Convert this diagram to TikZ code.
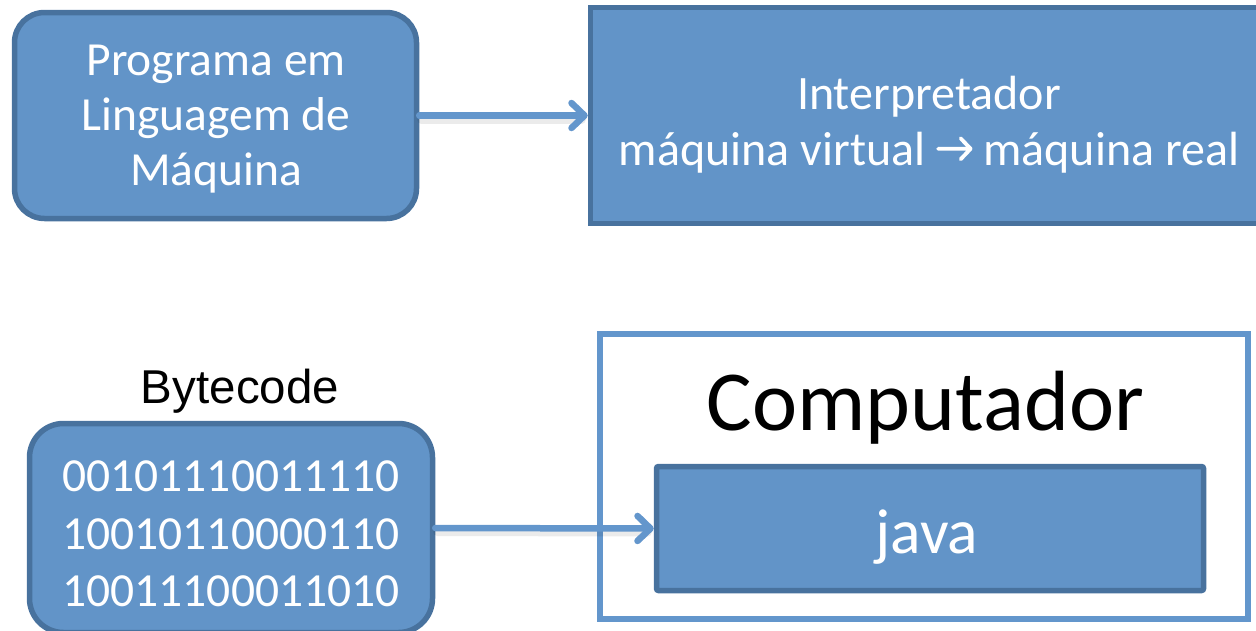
\documentclass[tikz,border=0pt]{standalone}
\usepackage{fontspec}
\setmainfont{Carlito}
\newfontfamily\arialfont{Liberation Sans}
\usetikzlibrary{arrows.meta}

\definecolor{boxfill}{RGB}{98,148,200}
\definecolor{boxline}{RGB}{72,114,158}
\definecolor{linkblue}{RGB}{99,150,204}

\tikzset{
  darkbox/.style={draw=boxline, fill=boxfill, line width=5.5pt, text=white, align=center, inner sep=0pt},
  framebox/.style={draw=linkblue, line width=6pt, inner sep=0pt},
  link/.style={draw=linkblue, line width=6.5pt, line cap=round,
    -{Straight Barb[length=13pt, width=25pt, line cap=round, line join=round]}},
  linkshadow/.style={draw=black, line width=8pt, opacity=0.08, line cap=round},
}

% chevron arrow used inside the interpreter label
\newcommand{\vmarrow}{\tikz[x=1pt,y=1pt,baseline=0pt]{\draw[white, line width=3.8pt, line cap=round, line join=round]
  (2.5,17) -- (35,17) (25,6.5) -- (35,17) -- (25,27.5);}}

\begin{document}
\begin{tikzpicture}[x=1pt, y=-1pt]
  \useasboundingbox (0,0) rectangle (1256,630);
  \clip (0,0) rectangle (1256,630);

  % upper row
  \node[darkbox, rounded corners=30pt, minimum width=402pt, minimum height=206pt] (prog) at (215.5,115.5) {};
  \node[font=\fontsize{47.5}{55}\selectfont, text=white, align=center] (progtext) at (216,119)
    {Programa em\\Linguagem de\\Máquina};

  \node[darkbox, minimum width=677pt, minimum height=216pt] (interp) at (929,115.5) {};
  \node[font=\fontsize{48}{56}\selectfont, text=white, align=center] (interptext) at (929,125)
    {Interpretador\\máquina virtual \vmarrow{} máquina real};

  % lower row
  \node[font=\arialfont\fontsize{47.5}{55}\selectfont, anchor=base] (bclabel) at (240,403) {Bytecode};
  \node[darkbox, rounded corners=34pt, minimum width=403pt, minimum height=209pt] (bytecode) at (231,528) {};
  \node[font=\fontsize{47.5}{57.5}\selectfont, text=white, align=center] (bits) at (231,534)
    {00101110011110\\10010110000110\\10011100011010};

  \node[framebox, minimum width=648pt, minimum height=285pt] (computer) at (924,476.5) {};
  \node[font=\fontsize{85.5}{100}\selectfont, anchor=base] (comptext) at (925.5,430) {Computador};
  \node[darkbox, rounded corners=2pt, minimum width=547pt, minimum height=124pt] (java) at (930,528.5) {};
  \node[font=\fontsize{63.5}{70}\selectfont, text=white, anchor=base] (javatext) at (927,553) {java};

  % connectors with a soft shadow
  \draw[linkshadow] ([shift={(2,4)}]prog.east) -- ([shift={(-6,4)}]interp.west);
  \draw[link] (prog.east) -- (interp.west);
  \draw[linkshadow] ([shift={(2,4)}]bytecode.east) -- ([shift={(-6,4)}]java.west);
  \draw[link] (bytecode.east) -- (java.west);
\end{tikzpicture}
\end{document}
